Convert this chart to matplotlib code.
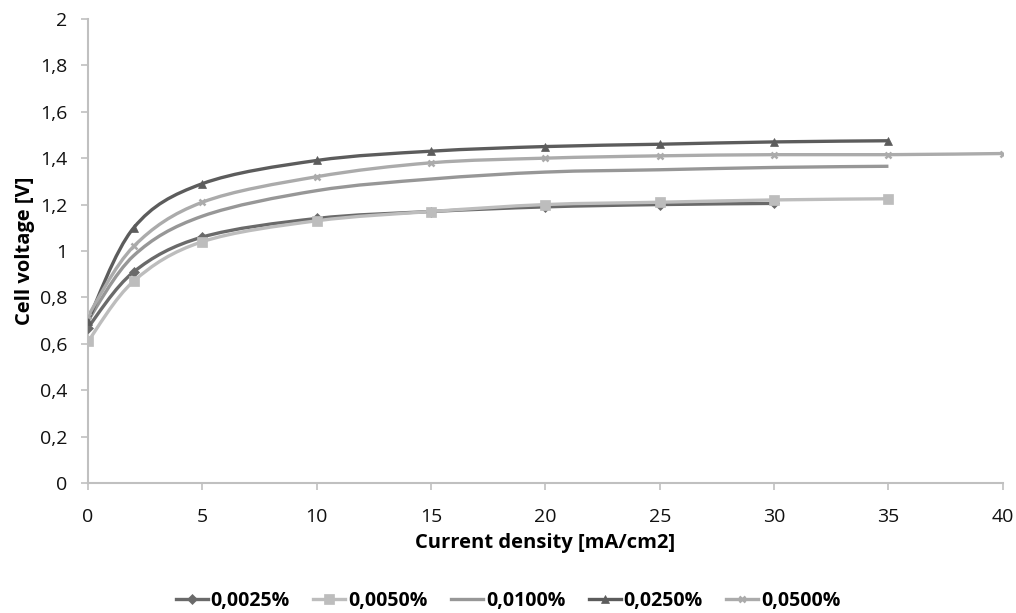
import numpy as np
import matplotlib.pyplot as plt
from matplotlib.path import Path
from matplotlib.patches import PathPatch
from matplotlib.ticker import FuncFormatter

plt.rcParams['font.family'] = ['Open Sans', 'DejaVu Sans']

# ---------- data ----------
x_0025 = [0, 2, 5, 10, 15, 20, 25, 30]
y_0025 = [0.67, 0.91, 1.06, 1.14, 1.17, 1.19, 1.20, 1.205]

x_0050 = [0, 2, 5, 10, 15, 20, 25, 30, 35]
y_0050 = [0.61, 0.87, 1.04, 1.13, 1.17, 1.20, 1.21, 1.22, 1.225]

x_0100 = [0, 2, 5, 10, 15, 20, 25, 30, 35]
y_0100 = [0.70, 0.98, 1.15, 1.26, 1.31, 1.34, 1.35, 1.36, 1.365]

x_0250 = [0, 2, 5, 10, 15, 20, 25, 30, 35]
y_0250 = [0.70, 1.10, 1.29, 1.39, 1.43, 1.45, 1.46, 1.47, 1.475]

x_0500 = [0, 2, 5, 10, 15, 20, 25, 30, 35, 40]
y_0500 = [0.72, 1.02, 1.21, 1.32, 1.38, 1.40, 1.41, 1.415, 1.415, 1.42]

labels = ["0,0025%", "0,0050%", "0,0100%", "0,0250%", "0,0500%"]

series = [
    (x_0025, y_0025, "#6a6a6a", "D", 5),
    (x_0050, y_0050, "#bdbdbd", "s", 7),
    (x_0100, y_0100, "#979797", None, 0),
    (x_0250, y_0250, "#5c5c5c", "^", 6),
    (x_0500, y_0500, "#ababab", "x", 5),
]


def smooth_path(ax, xs, ys):
    # Excel-style smoothed line: bezier segments built in display space
    pts = ax.transData.transform(np.column_stack([xs, ys]))
    verts = [pts[0]]
    codes = [Path.MOVETO]
    n = len(pts)
    for i in range(n - 1):
        p0 = pts[i - 1] if i > 0 else pts[i]
        p1 = pts[i]
        p2 = pts[i + 1]
        p3 = pts[i + 2] if i + 2 < n else pts[i + 1]
        c1 = p1 + (p2 - p0) / 6.0
        c2 = p2 - (p3 - p1) / 6.0
        verts += [c1, c2, p2]
        codes += [Path.CURVE4] * 3
    return Path(verts, codes)


fig = plt.figure(figsize=(10.16, 6.13), dpi=100)
ax = fig.add_axes([0.0866, 0.2121, 0.9004, 0.757])
ax.set_xlim(0, 40)
ax.set_ylim(0, 2)
fig.canvas.draw()

handles = []
for (xs, ys, col, mk, ms), lab in zip(series, labels):
    p = smooth_path(ax, xs, ys)
    ax.add_patch(PathPatch(p, transform=None, facecolor='none',
                           edgecolor=col, lw=2.4, zorder=2))
    if mk:
        ax.plot(xs, ys, linestyle='none', marker=mk, ms=ms, color=col,
                mew=1.8 if mk == 'x' else 0.5, zorder=3)
    h, = ax.plot([], [], color=col, lw=2.4, marker=mk, ms=ms,
                 mew=1.8 if mk == 'x' else 0.5)
    handles.append(h)

ax.set_xticks(np.arange(0, 41, 5))
ax.set_yticks(np.arange(0, 2.01, 0.2))
fmt = FuncFormatter(lambda v, pos: ("%g" % round(v, 1)).replace('.', ','))
ax.yaxis.set_major_formatter(fmt)
ax.xaxis.set_major_formatter(fmt)
ax.tick_params(direction='out', length=5, width=1.2, color='#c0c0c0',
               labelsize=14, labelcolor='#111111')
ax.tick_params(axis='y', pad=10)
ax.tick_params(axis='x', pad=13)
for s in ['top', 'right']:
    ax.spines[s].set_visible(False)
for s in ['left', 'bottom']:
    ax.spines[s].set_color('#c0c0c0')
    ax.spines[s].set_linewidth(1.5)

ax.set_xlabel("Current density [mA/cm2]", fontsize=14.5, fontweight='bold', labelpad=5)
ax.set_ylabel("Cell voltage [V]", fontsize=14.5, fontweight='bold', labelpad=3)

leg = fig.legend(handles, labels, loc='center', ncol=5, frameon=False,
                 bbox_to_anchor=(0.5, 1 - 601 / 613), handlelength=1.65,
                 handletextpad=0.15, columnspacing=1.2,
                 prop={'size': 14, 'weight': 'bold'})

fig.savefig("out.png", dpi=100)
